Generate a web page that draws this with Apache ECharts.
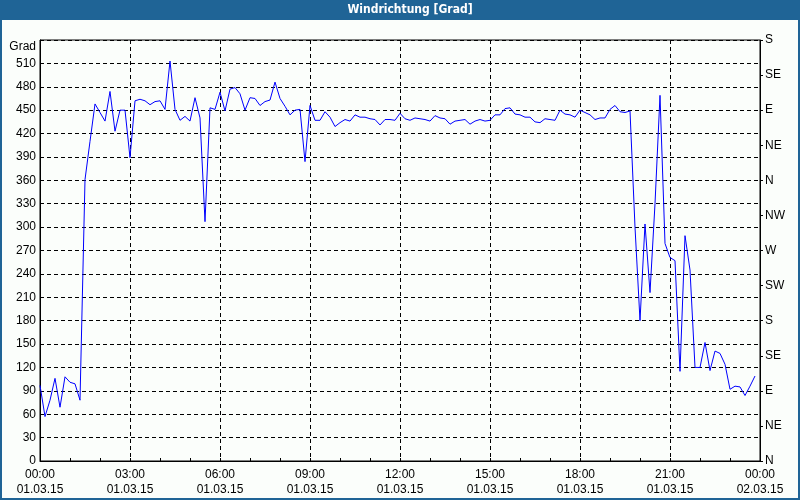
<!DOCTYPE html>
<html>
<head>
<meta charset="utf-8">
<script src="https://cdn.jsdelivr.net/npm/echarts@6/dist/echarts.min.js"></script>
<style>
html,body{margin:0;padding:0;background:#fbfefb;}
#chart{width:800px;height:500px;}
</style>
</head>
<body>
<div id="chart"></div>
<script>
// Wind direction in degrees, one reading every 10 minutes from 01.03.15 00:00
const stepMinutes = 10;
const directions = [
  97, 57, 78, 106, 69, 108, 101, 99, 78, 361,
  410, 458, 447, 436, 474, 423, 450, 450, 389, 462,
  464, 462, 457, 461, 462, 451, 513, 451, 437, 442,
  436, 466, 440, 307, 453, 451, 473, 449, 477, 479,
  471, 450, 466, 465, 456, 461, 463, 486, 465, 455,
  444, 450, 451, 384, 456, 437, 437, 448, 441, 429,
  434, 438, 436, 444, 441, 441, 439, 438, 431, 438,
  438, 437, 446, 439, 437, 440, 439, 438, 436, 443,
  440, 439, 432, 436, 437, 438, 432, 436, 438, 436,
  437, 444, 444, 452, 453, 445, 444, 441, 441, 435,
  434, 439, 438, 437, 450, 445, 444, 441, 450, 447,
  444, 438, 440, 440, 451, 456, 448, 447, 449, 300,
  180, 304, 216, 330, 469, 279, 261, 257, 115, 289,
  245, 120, 120, 152, 116, 141, 138, 124, 92, 96,
  95, 84, 96, 109
];
const xTickLabels = [
  '00:00\n01.03.15', '03:00\n01.03.15', '06:00\n01.03.15', '09:00\n01.03.15',
  '12:00\n01.03.15', '15:00\n01.03.15', '18:00\n01.03.15', '21:00\n01.03.15',
  '00:00\n02.03.15'
];
const compassLabels = ['N','NE','E','SE','S','SW','W','NW','N','NE','E','SE','S'];
const titleText = 'Windrichtung [Grad]';
const yUnit = 'Grad';

const FONT = '"Liberation Sans", Arial, sans-serif';
const seriesData = directions.map((v, i) => [i * stepMinutes, v]);
const dash = [4, 3];
const frameBlue = '#1f6496';

const chart = echarts.init(document.getElementById('chart'), null, {renderer: 'canvas'});
chart.setOption({
  backgroundColor: '#fbfefb',
  animation: false,
  textStyle: {fontFamily: FONT},
  grid: {left: 40, right: 40, top: 40, bottom: 39, show: true, borderColor: '#000', borderWidth: 1, backgroundColor: 'transparent'},
  xAxis: {
    type: 'value', min: 0, max: 1440, interval: 180,
    axisLine: {show: true, lineStyle: {color: '#000', width: 1}},
    axisTick: {show: true, inside: true, length: 3, lineStyle: {color: '#000'}},
    minorTick: {show: true, splitNumber: 3, length: 3, lineStyle: {color: '#000'}},
    splitLine: {show: true, lineStyle: {color: '#000', type: dash, width: 1}},
    axisLabel: {
      margin: 6, color: '#000', fontSize: 12, lineHeight: 15, fontFamily: FONT,
      formatter: v => xTickLabels[Math.round(v / 180)] || ''
    }
  },
  yAxis: [
    {
      type: 'value', min: 0, max: 540, interval: 30, position: 'left',
      name: yUnit, nameLocation: 'end', nameGap: -1,
      nameTextStyle: {align: 'right', verticalAlign: 'top', padding: [0, 4, 0, 0], color: '#000', fontSize: 12, fontFamily: FONT},
      axisLine: {show: true, lineStyle: {color: '#000', width: 1}},
      axisTick: {show: false},
      splitLine: {show: true, lineStyle: {color: '#000', type: dash, width: 1}},
      axisLabel: {margin: 4, color: '#000', fontSize: 12, fontFamily: FONT,
        formatter: v => (v === 540 ? '' : String(v))}
    },
    {
      type: 'value', min: 0, max: 540, interval: 45, position: 'right',
      axisLine: {show: true, lineStyle: {color: '#000', width: 1}},
      axisTick: {show: true, inside: false, length: 3, lineStyle: {color: '#000'}},
      splitLine: {show: false},
      axisLabel: {margin: 5, color: '#000', fontSize: 12, fontFamily: FONT,
        formatter: v => compassLabels[Math.round(v / 45)] || ''}
    }
  ],
  series: [{
    type: 'line', data: seriesData, yAxisIndex: 0,
    showSymbol: false, symbol: 'none',
    lineStyle: {color: '#0000ff', width: 1},
    z: 5
  }],
  graphic: [
    {type: 'rect', shape: {x: 0, y: 0, width: 800, height: 20}, style: {fill: frameBlue}, silent: true},
    {type: 'rect', shape: {x: 0, y: 0, width: 2, height: 500}, style: {fill: frameBlue}, silent: true},
    {type: 'rect', shape: {x: 798, y: 0, width: 2, height: 500}, style: {fill: frameBlue}, silent: true},
    {type: 'rect', shape: {x: 0, y: 498, width: 800, height: 2}, style: {fill: frameBlue}, silent: true},
    {type: 'text', x: 410, y: 10, style: {text: titleText, fill: '#fff', font: 'bold 12px "DejaVu Sans Condensed", "Liberation Sans Narrow", sans-serif', align: 'center', verticalAlign: 'middle'}, silent: true}
  ]
});
</script>
</body>
</html>
